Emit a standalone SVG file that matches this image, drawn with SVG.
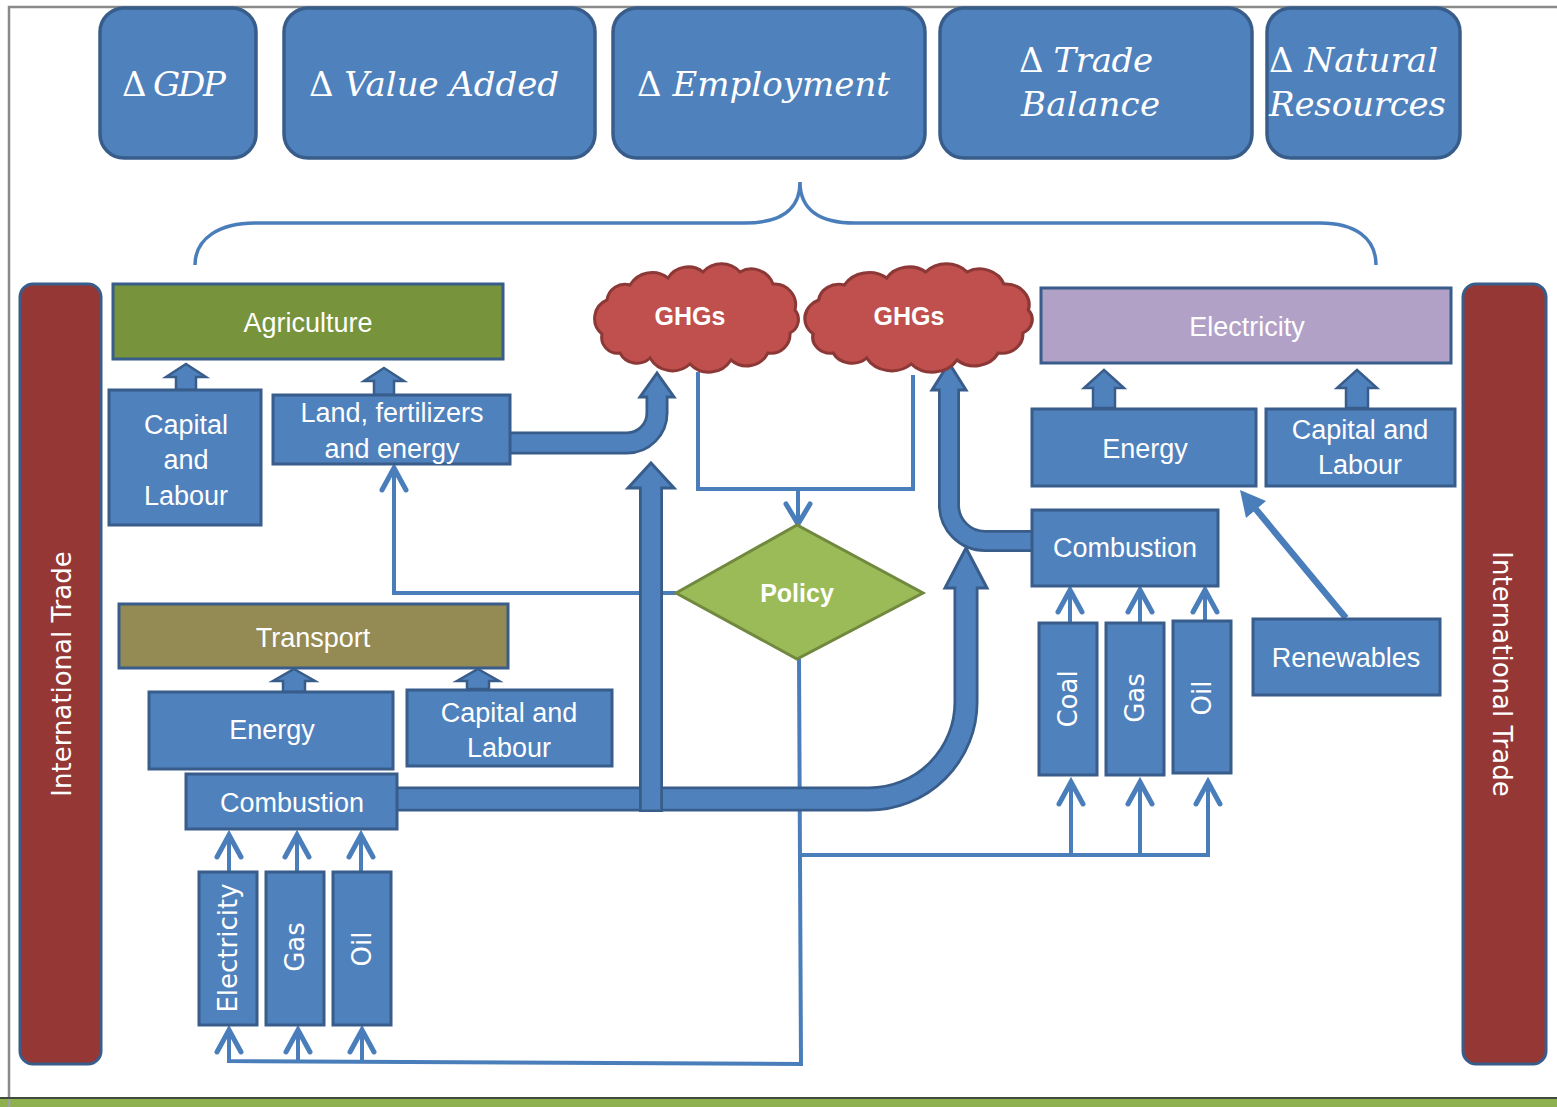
<svg xmlns="http://www.w3.org/2000/svg" width="1557" height="1107" viewBox="0 0 1557 1107">
<style>
.box{fill:#4F81BD;stroke:#385D8A;stroke-width:3}
.top{fill:#4F81BD;stroke:#385D8A;stroke-width:3.5}
.trade{fill:#953735;stroke:#385D8A;stroke-width:3}
.blk{fill:#4F81BD;stroke:#385D8A;stroke-width:2.5;stroke-linejoin:miter}
.cloud{fill:#C0504D;stroke:#8C3836;stroke-width:3}
.lbl{font-family:"Liberation Sans",Arial,sans-serif;font-size:27px;fill:#fff;text-anchor:middle}
.bld{font-weight:bold;font-size:25px}
.vert{font-family:"DejaVu Sans",Verdana,sans-serif;font-size:26px;fill:#fff;text-anchor:middle;dominant-baseline:central}
.math{font-family:"DejaVu Serif",serif;font-style:italic;font-size:34px;fill:#fff}
.thin{fill:none;stroke:#4A7EBB;stroke-width:4}
.head{fill:none;stroke:#4A7EBB;stroke-width:5;stroke-linecap:round;stroke-linejoin:miter}
.tdark{fill:none;stroke:#385D8A}
.tlight{fill:none;stroke:#4F81BD}
.thead{fill:#4F81BD;stroke:#385D8A;stroke-width:3;stroke-linejoin:miter}
</style>
<defs>
<path id="cloudShape" d="M602 334 A20 20 0 0 1 607 300 A18 18 0 0 1 630 285 A26 26 0 0 1 668 278 A24 24 0 0 1 703 272 A25 25 0 0 1 740 272 A23 23 0 0 1 773 284 A21 21 0 0 1 795 310 A15 15 0 0 1 790 333 A19 19 0 0 1 768 353 A24 24 0 0 1 731 360 A26 26 0 0 1 690 364 A26 26 0 0 1 650 358 A19 19 0 0 1 620 353 A16 16 0 0 1 602 334 Z"/>
</defs>
<rect x="0" y="0" width="1557" height="1107" fill="#fff"/>
<g id="frame">
<path d="M9 1107 V7 H1557" fill="none" stroke="#8a8a8a" stroke-width="2.5"/>
<rect x="0" y="1099" width="1557" height="8" fill="#8FB04F"/>
<line x1="0" y1="1098" x2="1557" y2="1098" stroke="#3f4a3a" stroke-width="2"/>
<line x1="9" y1="1099" x2="9" y2="1107" stroke="#a0a0a0" stroke-width="2.5"/>
</g>
<g id="connectors">
<path class="thin" style="stroke-width:3.5" d="M195 265 C195 238 220 223 255 223 H745 C780 223 800 210 800 182 C800 210 820 223 855 223 H1320 C1355 223 1376 238 1376 265"/>
<path class="thin" d="M698 372 V489 H913 V375"/>
<path class="thin" d="M798 489 V522"/>
<path class="head" d="M786 504 L798 524 L810 504"/>
<path class="thin" d="M676 593 H394 V470"/>
<path class="head" d="M382 490 L394 468 L406 490"/>
<path class="thin" d="M799 659 L801 1064 L229 1061 L229 1033"/>
<path class="thin" d="M298 1062 V1033 M362 1063 V1033"/>
<path class="head" d="M217 1052 L229 1030 L241 1052 M286 1052 L298 1030 L310 1052 M350 1052 L362 1030 L374 1052"/>
<path class="thin" d="M800 855 H1208 V785 M1071 855 V785 M1140 855 V785"/>
<path class="head" d="M1059 804 L1071 782 L1083 804 M1128 804 L1140 782 L1152 804 M1196 804 L1208 782 L1220 804"/>
<path class="thin" d="M229 872 V838 M297 872 V838 M361 872 V838"/>
<path class="head" d="M217 857 L229 835 L241 857 M285 857 L297 835 L309 857 M349 857 L361 835 L373 857"/>
<path class="thin" d="M1070 622 V593 M1140 622 V593 M1205 620 V593"/>
<path class="head" d="M1058 612 L1070 590 L1082 612 M1128 612 L1140 590 L1152 612 M1193 612 L1205 590 L1217 612"/>
<path class="thin" style="stroke-width:6.5" d="M1346 618 L1254 507"/>
<polygon points="1240,490 1266,501 1246,518" fill="#4A7EBB"/>
<path class="tdark" stroke-width="23" d="M508 443 H627 A30 30 0 0 0 657 413 V396"/>
<polygon class="thead" points="657,373 674,397 640,397"/>
<path class="tlight" stroke-width="17.5" d="M506 443 H627 A30 30 0 0 0 657 413 V390"/>
<path class="tdark" stroke-width="25" d="M396 799 H869 A97 97 0 0 0 966 702 V586"/>
<polygon class="thead" points="966,548 987,588 945,588"/>
<path class="tlight" stroke-width="19.5" d="M394 799 H869 A97 97 0 0 0 966 702 V580"/>
<path class="tdark" stroke-width="24" d="M651 812 V487"/>
<polygon class="thead" points="651,463 674,488 628,488"/>
<path class="tlight" stroke-width="18.5" d="M651 809.5 V480"/>
<path class="tdark" stroke-width="22" d="M1036 541 H985 A36 36 0 0 1 949 505 V389"/>
<polygon class="thead" points="949,363 966,390 932,390"/>
<path class="tlight" stroke-width="16.5" d="M1038 541 H985 A36 36 0 0 1 949 505 V383"/>
<path class="blk" d="M186 364 L206 377 L196 377 L196 390 L176 390 L176 377 L166 377 Z"/>
<path class="blk" d="M384 368 L404 381 L394 381 L394 395 L374 395 L374 381 L364 381 Z"/>
<path class="blk" d="M294 669 L315 681 L305 681 L305 692 L283 692 L283 681 L273 681 Z"/>
<path class="blk" d="M478 669 L499 681 L489 681 L489 689 L467 689 L467 681 L457 681 Z"/>
<path class="blk" d="M1104 370 L1124 388 L1115 388 L1115 408 L1093 408 L1093 388 L1084 388 Z"/>
<path class="blk" d="M1357 370 L1377 388 L1368 388 L1368 408 L1346 408 L1346 388 L1337 388 Z"/>
</g>
<g id="gdp"><rect class="top" x="100" y="8" width="156" height="150" rx="24"/><text class="math" x="122" y="96" textLength="104" lengthAdjust="spacing"><tspan font-style="normal">Δ</tspan> GDP</text></g>
<g id="value-added"><rect class="top" x="284" y="8" width="311" height="150" rx="24"/><text class="math" x="309" y="96" textLength="250" lengthAdjust="spacing"><tspan font-style="normal">Δ</tspan> Value Added</text></g>
<g id="employment"><rect class="top" x="613" y="8" width="312" height="150" rx="24"/><text class="math" x="637" y="96" textLength="253" lengthAdjust="spacing"><tspan font-style="normal">Δ</tspan> Employment</text></g>
<g id="trade-balance"><rect class="top" x="940" y="8" width="312" height="150" rx="24"/><text class="math" x="1019" y="72" textLength="134" lengthAdjust="spacing"><tspan font-style="normal">Δ</tspan> Trade</text><text class="math" x="1021" y="116" textLength="139" lengthAdjust="spacing">Balance</text></g>
<g id="natural-resources"><rect class="top" x="1267" y="8" width="193" height="150" rx="24"/><text class="math" x="1269" y="72" textLength="169" lengthAdjust="spacing"><tspan font-style="normal">Δ</tspan> Natural</text><text class="math" x="1269" y="116" textLength="177" lengthAdjust="spacing">Resources</text></g>
<g id="trade-left"><rect class="trade" x="20" y="284" width="81" height="780" rx="13"/><text class="vert" x="62" y="674" font-size="27" transform="rotate(-90 62 674)">International Trade</text></g>
<g id="trade-right"><rect class="trade" x="1463" y="284" width="83" height="780" rx="13"/><text class="vert" x="1502" y="674" font-size="27" transform="rotate(90 1502 674)">International Trade</text></g>
<g id="agriculture"><rect class="box" x="113" y="284" width="390" height="75" style="fill:#77933C"/><text class="lbl" x="308" y="332">Agriculture</text></g>
<g id="agri-capital"><rect class="box" x="109" y="390" width="152" height="135"/><text class="lbl" x="186" y="434">Capital</text><text class="lbl" x="186" y="469">and</text><text class="lbl" x="186" y="505">Labour</text></g>
<g id="agri-land"><rect class="box" x="273" y="395" width="237" height="69"/><text class="lbl" x="392" y="422">Land, fertilizers</text><text class="lbl" x="392" y="458">and energy</text></g>
<g id="ghg-left"><use href="#cloudShape" class="cloud"/><text class="lbl bld" x="690" y="325">GHGs</text></g>
<g id="ghg-right"><use href="#cloudShape" class="cloud" transform="matrix(1.115 0 0 1 141.92 0)" style="vector-effect:non-scaling-stroke"/><text class="lbl bld" x="909" y="325">GHGs</text></g>
<g id="policy"><polygon points="676,593 797,525 923,593 797,659" fill="#9BBB59" stroke="#71893F" stroke-width="3"/><text class="lbl bld" x="797" y="602">Policy</text></g>
<g id="transport"><rect class="box" x="119" y="604" width="389" height="64" style="fill:#948A54"/><text class="lbl" x="313" y="647">Transport</text></g>
<g id="transport-energy"><rect class="box" x="149" y="692" width="244" height="77"/><text class="lbl" x="272" y="739">Energy</text></g>
<g id="transport-capital"><rect class="box" x="407" y="690" width="205" height="76"/><text class="lbl" x="509" y="722">Capital and</text><text class="lbl" x="509" y="757">Labour</text></g>
<g id="transport-combustion"><rect class="box" x="186" y="774" width="211" height="55"/><text class="lbl" x="292" y="812">Combustion</text></g>
<g id="t-electricity"><rect class="box" x="199" y="872" width="58" height="153"/><text class="vert" x="228" y="948" transform="rotate(-90 228 948)">Electricity</text></g>
<g id="t-gas"><rect class="box" x="266" y="872" width="58" height="153"/><text class="vert" x="295" y="947" transform="rotate(-90 295 947)">Gas</text></g>
<g id="t-oil"><rect class="box" x="333" y="872" width="58" height="153"/><text class="vert" x="362" y="949" transform="rotate(-90 362 949)">Oil</text></g>
<g id="electricity"><rect class="box" x="1041" y="288" width="410" height="75" style="fill:#B2A1C7"/><text class="lbl" x="1247" y="336">Electricity</text></g>
<g id="e-energy"><rect class="box" x="1032" y="409" width="224" height="77"/><text class="lbl" x="1145" y="458">Energy</text></g>
<g id="e-capital"><rect class="box" x="1266" y="409" width="189" height="77"/><text class="lbl" x="1360" y="439">Capital and</text><text class="lbl" x="1360" y="474">Labour</text></g>
<g id="e-combustion"><rect class="box" x="1032" y="510" width="186" height="76"/><text class="lbl" x="1125" y="557">Combustion</text></g>
<g id="renewables"><rect class="box" x="1253" y="619" width="187" height="76"/><text class="lbl" x="1346" y="667">Renewables</text></g>
<g id="e-coal"><rect class="box" x="1039" y="623" width="58" height="152"/><text class="vert" x="1068" y="699" transform="rotate(-90 1068 699)">Coal</text></g>
<g id="e-gas"><rect class="box" x="1106" y="623" width="58" height="152"/><text class="vert" x="1135" y="698" transform="rotate(-90 1135 698)">Gas</text></g>
<g id="e-oil"><rect class="box" x="1173" y="621" width="58" height="152"/><text class="vert" x="1202" y="698" transform="rotate(-90 1202 698)">Oil</text></g>
</svg>
